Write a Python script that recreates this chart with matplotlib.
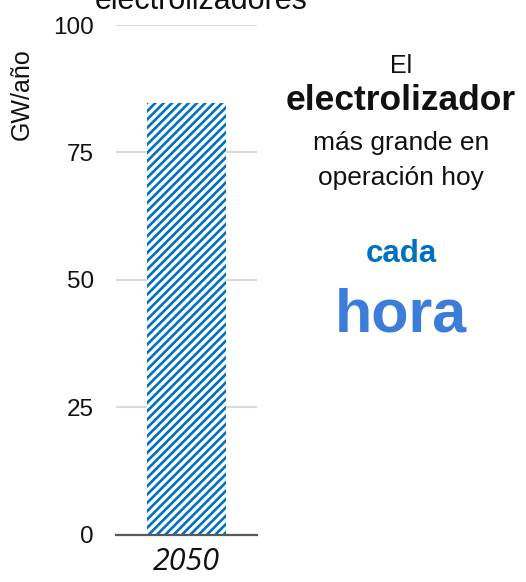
import matplotlib
matplotlib.use("Agg")
import matplotlib.pyplot as plt

categories = ["2050"]
values = [84.7]
yticks = [0, 25, 50, 75, 100]
ylabel = "GW/año"
title_tail = "electrolizadores"
side_lines = ["El", "electrolizador", "más grande en", "operación hoy"]
emph_small = "cada"
emph_big = "hora"

plt.rcParams['font.family'] = ['Liberation Sans', 'DejaVu Sans']
plt.rcParams['hatch.linewidth'] = 1.9

W, H = 526, 582
fig = plt.figure(figsize=(W / 100, H / 100), dpi=100)

def fx(px):
    return px / W

def fy(py):
    return 1 - py / H

ax = fig.add_axes([fx(116), fy(534.6), fx(256.5) - fx(116), fy(25) - fy(534.6)])
ax.bar(range(len(categories)), values, width=0.565, color='white',
       edgecolor='#0070C0', hatch='////', linewidth=0, zorder=3)
ax.set_xlim(-0.5, len(categories) - 0.5)
ax.set_ylim(0, 100)
ax.set_yticks(yticks)
ax.set_yticklabels([str(v) for v in yticks], fontsize=17.5, color='#111111')
ax.set_xticks(range(len(categories)))
ax.set_xticklabels(categories, fontsize=22, style='italic', color='#111111',
                   family=['Open Sans', 'DejaVu Sans'])
ax.tick_params(axis='y', length=0, pad=16)
ax.tick_params(axis='x', length=0, pad=9)
ax.yaxis.grid(True, color='#D9D9D9', linewidth=1.5, zorder=0)
ax.set_axisbelow(True)
for s in ['top', 'right', 'left']:
    ax.spines[s].set_visible(False)
ax.spines['bottom'].set_color('#595959')
ax.spines['bottom'].set_linewidth(1.6)
ax.spines['bottom'].set_zorder(4)

fig.text(fx(34), fy(94.5), ylabel, rotation=90, ha='right', va='center',
         fontsize=18, color='#111111')

fig.text(fx(201), fy(9), title_tail, ha='center', va='baseline', fontsize=22,
         color='#111111')

cx = fx(401)
fig.text(cx, fy(73), side_lines[0], ha='center', va='baseline', fontsize=18, color='#111111')
fig.text(cx, fy(110), side_lines[1], ha='center', va='baseline', fontsize=25.5,
         fontweight='bold', color='#111111')
fig.text(cx, fy(150), side_lines[2], ha='center', va='baseline', fontsize=19, color='#111111')
fig.text(cx, fy(185), side_lines[3], ha='center', va='baseline', fontsize=19, color='#111111')
fig.text(cx, fy(262), emph_small, ha='center', va='baseline', fontsize=22.5,
         fontweight='bold', color='#0070C0')
fig.text(cx, fy(332), emph_big, ha='center', va='baseline', fontsize=44,
         fontweight='bold', color='#3C7DD9')

fig.savefig("out.png", dpi=100)
